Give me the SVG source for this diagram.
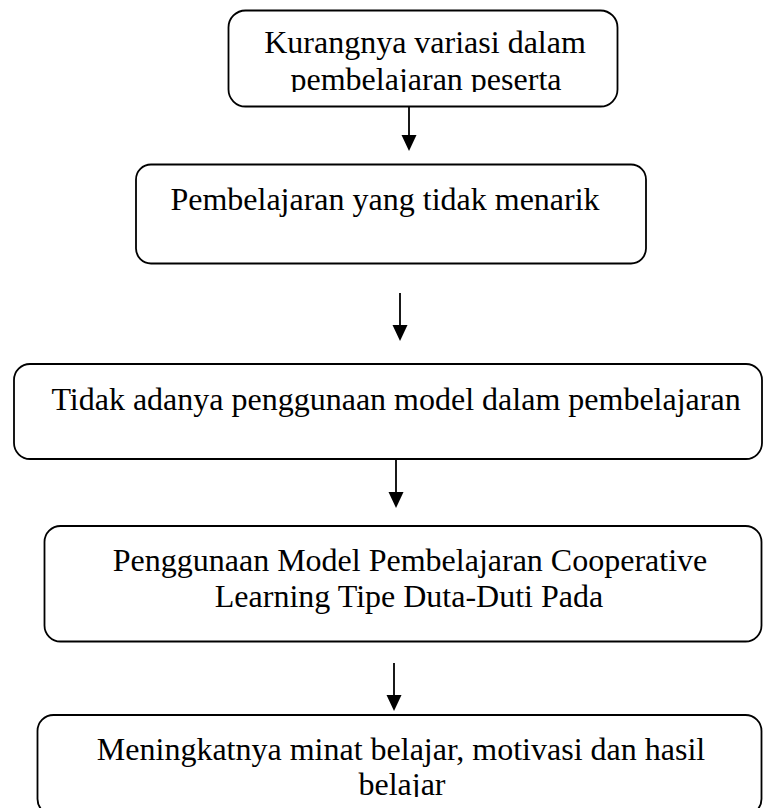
<svg xmlns="http://www.w3.org/2000/svg" width="763" height="808" viewBox="0 0 763 808">
<style>
.box{fill:#fff;stroke:#000;stroke-width:1.8}
.t{font-family:"Liberation Serif","Times New Roman",serif;font-size:32px;fill:#000;text-anchor:middle}
.conn{stroke:#000;stroke-width:1.8;fill:none}
</style>
<defs>
<marker id="ah" markerUnits="userSpaceOnUse" markerWidth="16" markerHeight="17" refX="8" refY="16" orient="auto-start-reverse" viewBox="0 0 16 17">
<path d="M0.5,0 L15.5,0 L8,16 Z" fill="#000" transform="rotate(-90 8 8)"/>
</marker>
<clipPath id="c1"><rect x="228" y="10" width="390" height="82"/></clipPath>
<clipPath id="c5"><rect x="37" y="715" width="725" height="82"/></clipPath>
</defs>
<rect width="763" height="808" fill="#fff"/>
<g id="connectors">
<path class="conn" d="M409,107 V136"/><path d="M401.5,135 H416.5 L409,151 Z"/>
<path class="conn" d="M400,293 V326"/><path d="M392.5,325 H407.5 L400,341 Z"/>
<path class="conn" d="M396,460 V493"/><path d="M388.5,492 H403.5 L396,508 Z"/>
<path class="conn" d="M394,663 V696"/><path d="M386.5,695 H401.5 L394,711 Z"/>
</g>
<g id="n1">
<rect class="box" x="228.5" y="10.5" width="389" height="96" rx="17"/>
<g clip-path="url(#c1)">
<text class="t" x="425" y="53">Kurangnya variasi dalam</text>
<text class="t" x="426" y="90">pembelajaran peserta</text>
</g>
</g>
<g id="n2">
<rect class="box" x="136" y="164.5" width="510" height="99" rx="15"/>
<text class="t" x="385" y="210">Pembelajaran yang tidak menarik</text>
</g>
<g id="n3">
<rect class="box" x="14" y="364" width="748" height="95" rx="16"/>
<text class="t" x="396" y="410">Tidak adanya penggunaan model dalam pembelajaran</text>
</g>
<g id="n4">
<rect class="box" x="44.5" y="526" width="717" height="115.5" rx="16"/>
<text class="t" x="410" y="571">Penggunaan Model Pembelajaran Cooperative</text>
<text class="t" x="409" y="607">Learning Tipe Duta-Duti Pada</text>
</g>
<g id="n5">
<rect class="box" x="37.5" y="715" width="724" height="100" rx="16"/>
<g clip-path="url(#c5)">
<text class="t" x="401" y="760">Meningkatnya minat belajar, motivasi dan hasil</text>
<text class="t" x="402" y="795">belajar</text>
</g>
</g>
</svg>
